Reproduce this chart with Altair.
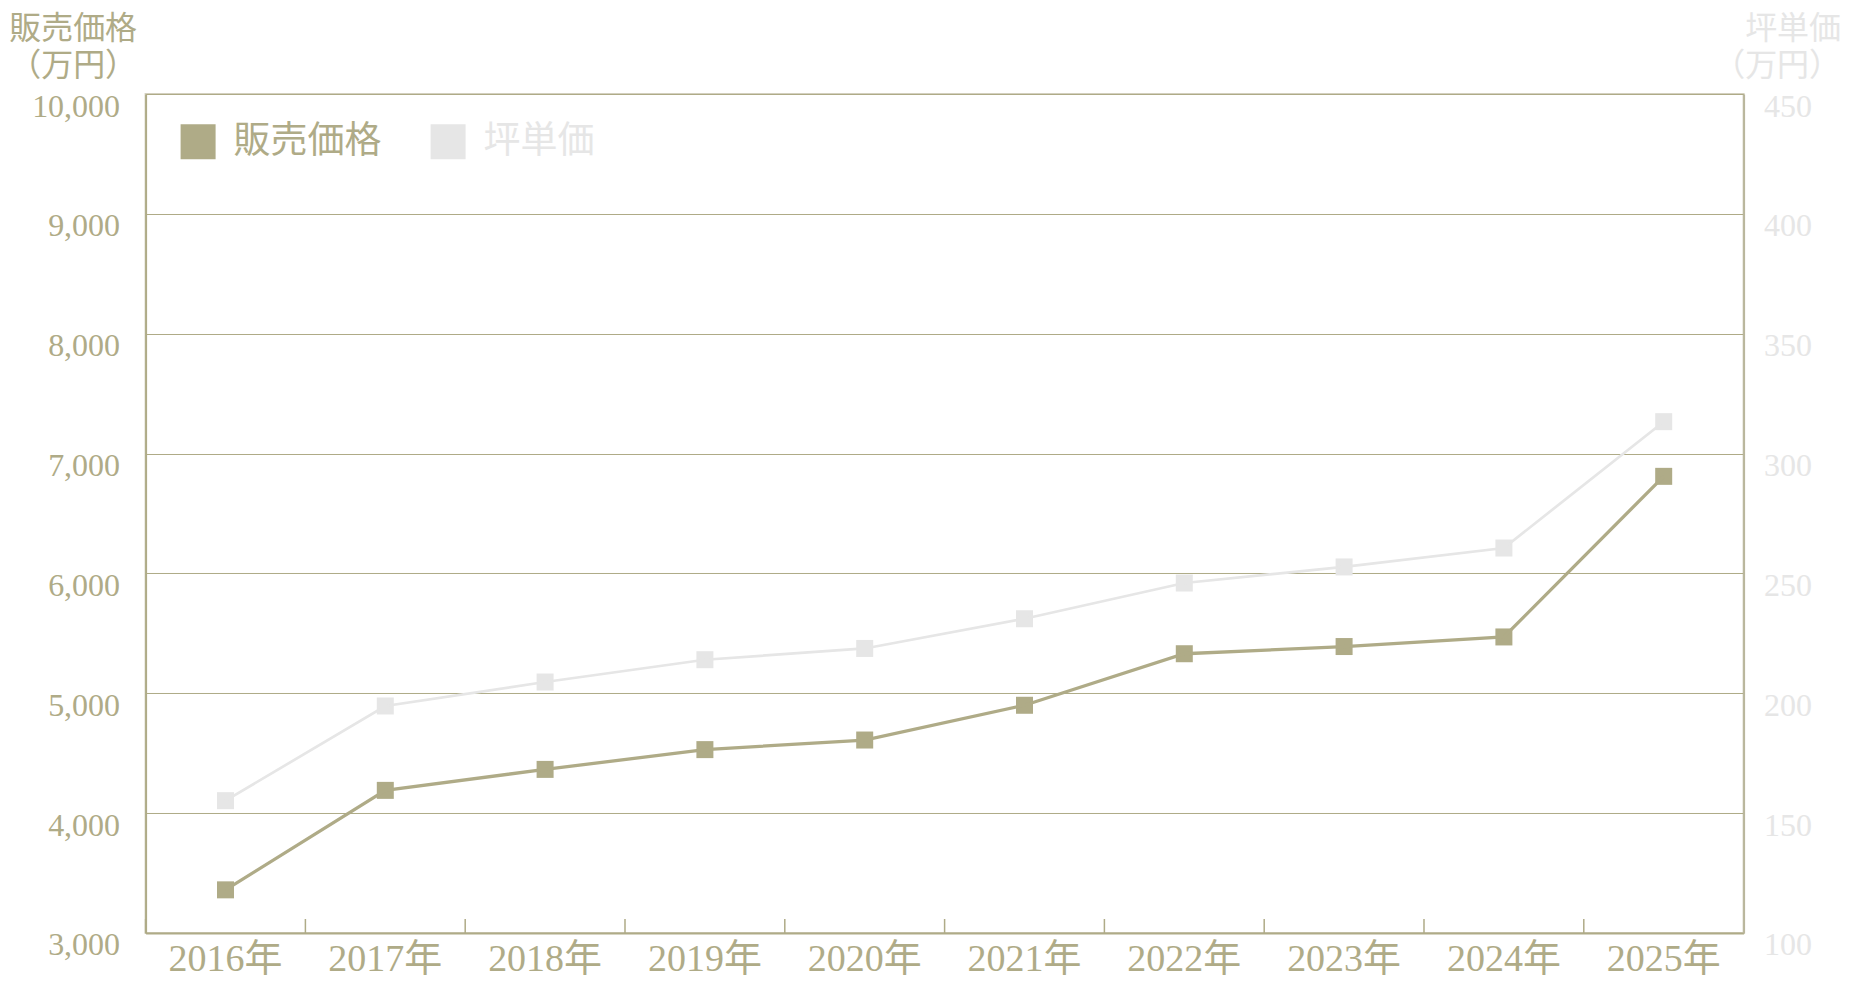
import altair as alt
import pandas as pd

years = ["2016年", "2017年", "2018年", "2019年", "2020年",
         "2021年", "2022年", "2023年", "2024年", "2025年"]
sales = [3360, 4190, 4365, 4530, 4610, 4900, 5330, 5390, 5470, 6810]
tsubo = [155.2, 194.7, 204.7, 214.0, 218.7, 231.1, 246.0, 252.7, 260.6, 313.3]
series = ["販売価格", "坪単価"]
left_ticks = [3000, 4000, 5000, 6000, 7000, 8000, 9000, 10000]
right_ticks = [100, 150, 200, 250, 300, 350, 400, 450]
left_title = ["販売価格", "（万円）"]
right_title = ["坪単価", "（万円）"]

OLIVE = "#afab87"
GRAY = "#e6e6e6"
FONT = "Liberation Serif, Noto Sans CJK JP"

rows = []
for y, s, t in zip(years, sales, tsubo):
    rows.append({"year": y, "series": series[0], "value": s})
    rows.append({"year": y, "series": series[1], "value": t})
df = pd.DataFrame(rows)
df_years = pd.DataFrame({"year": years})

W, H = 1598, 839
PAD_R = 101

x_scale = alt.Scale(type="band", paddingInner=0, paddingOuter=0)
x_axis = alt.Axis(title=None, labelAngle=0, labelFontSize=38, labelColor=OLIVE,
                  labelFont=FONT, labelPadding=38, labelBaseline="alphabetic",
                  ticks=False, domainColor=OLIVE, domainWidth=2, grid=False)
xenc = alt.X("year:N", sort=years, scale=x_scale, axis=x_axis)

color = alt.Color(
    "series:N",
    scale=alt.Scale(domain=series, range=[OLIVE, GRAY]),
    legend=alt.Legend(
        title=None, orient="none", legendX=34, legendY=29, direction="horizontal",
        symbolType="square", symbolSize=1225, symbolStrokeWidth=0,
        labelFontSize=37, labelFont=FONT,
        labelColor={"expr": f"datum.label == '{series[0]}' ? '{OLIVE}' : '{GRAY}'"},
        labelOffset=17, columnPadding=48, padding=0,
    ),
)

y_left = alt.Y(
    "value:Q",
    scale=alt.Scale(domain=[3000, 10000], nice=False, zero=False),
    axis=alt.Axis(
        title=left_title, titleAngle=0, titleAlign="right", titleBaseline="top",
        titleX=-9, titleY=-81, titleFontSize=32, titleFont=FONT, titleColor=OLIVE,
        titleFontWeight="normal", titleLineHeight=38,
        values=left_ticks, format=",.0f", labelFontSize=32, labelFont=FONT,
        labelColor=OLIVE, labelPadding=26, labelOffset=12, ticks=False,
        grid=True, gridColor=OLIVE, gridWidth=1, domainColor=OLIVE, domainWidth=2,
    ),
)

y_right = alt.Y(
    "value:Q",
    scale=alt.Scale(domain=[100, 450], nice=False, zero=False),
    axis=alt.Axis(
        orient="right",
        title=right_title, titleAngle=0, titleAlign="right", titleBaseline="top",
        titleX=PAD_R - 4, titleY=-81, titleFontSize=32, titleFont=FONT, titleColor=GRAY,
        titleFontWeight="normal", titleLineHeight=38,
        values=right_ticks, format=".0f", labelFontSize=32, labelFont=FONT,
        labelColor=GRAY, labelPadding=20, labelOffset=12, ticks=False,
        grid=False, domainColor="#b9b69c", domainWidth=2,
    ),
)

base = alt.Chart(df)

sales_layer = alt.layer(
    base.transform_filter(alt.datum.series == series[0])
        .mark_square(size=289, opacity=1).encode(x=xenc, y=y_left, color=color),
    base.transform_filter(alt.datum.series == series[0])
        .mark_line(strokeWidth=3.3).encode(x=xenc, y=y_left, color=color),
)

tsubo_layer = alt.layer(
    base.transform_filter(alt.datum.series == series[1])
        .mark_square(size=289, opacity=1).encode(x=xenc, y=y_right, color=color),
    base.transform_filter(alt.datum.series == series[1])
        .mark_line(strokeWidth=2.7).encode(x=xenc, y=y_right, color=color),
)

ticks = alt.Chart(df_years).mark_rule(color=OLIVE, strokeWidth=1.5).encode(
    x=alt.X("year:N", sort=years, bandPosition=0, scale=x_scale, axis=x_axis),
    y=alt.value(H),
    y2=alt.value(H - 14),
)

chart = alt.layer(sales_layer, tsubo_layer, ticks).resolve_scale(
    y="independent"
).properties(
    width=W, height=H,
    autosize=alt.AutoSizeParams(type="none"),
    padding={"left": 137.6, "top": 86, "right": PAD_R, "bottom": 47},
    background="white",
).configure_view(
    stroke="#d3d0bf", strokeWidth=2
)

chart.save("out.html", embed_options={"renderer": "svg", "actions": False})
